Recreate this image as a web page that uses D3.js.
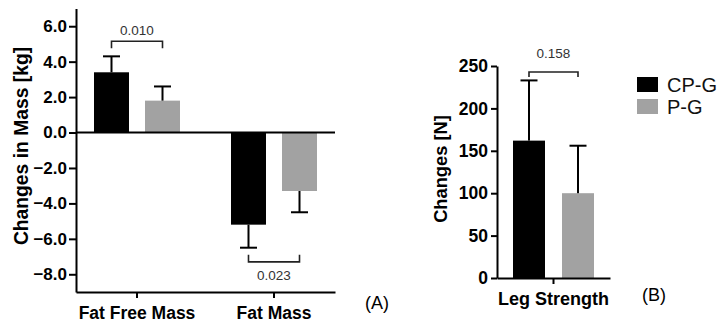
<!DOCTYPE html>
<html lang="en">
<head>
<meta charset="utf-8">
<script src="https://d3js.org/d3.v7.min.js"></script>
<style>
    body { margin: 0; background: #fff; }
    svg { display: block; font-family: "Liberation Sans", Arial, sans-serif; }
    .axis path, .axis line { stroke: #000; stroke-width: 2; }
    .axis text { font-weight: bold; fill: #000; }
</style>
</head>
<body>
<div id="chart"></div>
<script>
// ---------------- data ----------------
var groups = ["CP-G", "P-G"];
var colors = ["#000000", "#a2a2a2"];

// panel A
var massCats = ["Fat Free Mass", "Fat Mass"];
var massCPG = [3.4, -5.2];
var massPG = [1.8, -3.3];
var massCPGErr = [0.9, 1.3];
var massPGErr = [0.8, 1.2];
var massTicks = [-8, -6, -4, -2, 0, 2, 4, 6];
var massP = ["0.010", "0.023"];

// panel B
var legCats = ["Leg Strength"];
var legCPG = [162];
var legPG = [100];
var legCPGErr = [71];
var legPGErr = [56];
var legTicks = [0, 50, 100, 150, 200, 250];
var legP = ["0.158"];

// ---------------- drawing ----------------
var svg = d3.select("#chart").append("svg")
    .attr("width", 725)
    .attr("height", 327);

function buildRows(cats, a, b, ea, eb) {
    var rows = [];
    cats.forEach(function(c, i) {
        rows.push({cat: c, group: groups[0], value: a[i], err: ea[i]});
        rows.push({cat: c, group: groups[1], value: b[i], err: eb[i]});
    });
    return rows;
}

function drawBars(g, rows, x, sub, y) {
    var bw = x.bandwidth();
    g.selectAll("rect.bar")
        .data(rows)
        .enter().append("rect")
        .attr("class", "bar")
        .attr("x", function(d) { return x(d.cat) + bw / 2 + sub(d.group); })
        .attr("y", function(d) { return y(Math.max(0, d.value)); })
        .attr("width", sub.bandwidth())
        .attr("height", function(d) { return Math.abs(y(d.value) - y(0)); })
        .attr("fill", function(d) { return colors[groups.indexOf(d.group)]; });

    // one sided error bars
    var eb = g.selectAll("g.err").data(rows).enter().append("g").attr("class", "err");
    eb.append("line")
        .attr("x1", function(d) { return x(d.cat) + bw / 2 + sub(d.group) + sub.bandwidth() / 2; })
        .attr("x2", function(d) { return x(d.cat) + bw / 2 + sub(d.group) + sub.bandwidth() / 2; })
        .attr("y1", function(d) { return y(d.value); })
        .attr("y2", function(d) { return y(d.value + (d.value >= 0 ? d.err : -d.err)); })
        .attr("stroke", "#000").attr("stroke-width", 2);
    eb.append("line")
        .attr("x1", function(d) { return x(d.cat) + bw / 2 + sub(d.group) + sub.bandwidth() / 2 - 8.5; })
        .attr("x2", function(d) { return x(d.cat) + bw / 2 + sub(d.group) + sub.bandwidth() / 2 + 8.5; })
        .attr("y1", function(d) { return y(d.value + (d.value >= 0 ? d.err : -d.err)); })
        .attr("y2", function(d) { return y(d.value + (d.value >= 0 ? d.err : -d.err)); })
        .attr("stroke", "#000").attr("stroke-width", 2);
}

function bracket(g, x, sub, y, cat, yBar, yLeg, label, textY) {
    var c = x(cat) + x.bandwidth() / 2;
    var x1 = c + sub(groups[0]) + sub.bandwidth() / 2;
    var x2 = c + sub(groups[1]) + sub.bandwidth() / 2;
    g.append("path")
        .attr("d", "M" + x1 + "," + y(yLeg) + "V" + y(yBar) + "H" + x2 + "V" + y(yLeg))
        .attr("fill", "none").attr("stroke", "#222").attr("stroke-width", 1.6);
    g.append("text")
        .attr("x", (x1 + x2) / 2)
        .attr("y", textY)
        .attr("text-anchor", "middle")
        .attr("dominant-baseline", "central")
        .style("font-size", "13.5px")
        .attr("fill", "#333")
        .text(label);
}

// ---- panel A ----
var gA = svg.append("g");
var yA = d3.scaleLinear().domain([-9, 7]).range([292, 8.5]);
var xA = d3.scaleBand().domain(massCats).range([76, 335]).paddingInner(0.1095).paddingOuter(0);
var subA = d3.scaleBand().domain(groups).range([-43, 43]).paddingInner(0.314);

drawBars(gA, buildRows(massCats, massCPG, massPG, massCPGErr, massPGErr), xA, subA, yA);

gA.append("line")
    .attr("x1", 76).attr("x2", 335)
    .attr("y1", yA(0)).attr("y2", yA(0))
    .attr("stroke", "#000").attr("stroke-width", 2);

gA.append("g").attr("class", "axis")
    .attr("transform", "translate(76,0)")
    .call(d3.axisLeft(yA).tickValues(massTicks).tickFormat(d3.format(".1f"))
        .tickSize(7).tickPadding(2).tickSizeOuter(0))
    .selectAll("text").style("font-size", "17px");

gA.append("g").attr("class", "axis")
    .attr("transform", "translate(0," + yA(-9) + ")")
    .call(d3.axisBottom(xA).tickSize(6).tickPadding(4).tickSizeOuter(0))
    .selectAll("text").style("font-size", "17.5px").attr("dy", "0.95em");

gA.append("text")
    .attr("transform", "rotate(-90)")
    .attr("x", -146).attr("y", 28)
    .attr("text-anchor", "middle")
    .style("font-size", "19.3px").style("font-weight", "bold")
    .text("Changes in Mass [kg]");

bracket(gA, xA, subA, yA, massCats[0], 5.15, 4.75, massP[0], 30);
bracket(gA, xA, subA, yA, massCats[1], -7.3, -6.9, massP[1], 275);

gA.append("text")
    .attr("x", 365).attr("y", 303)
    .attr("dominant-baseline", "central")
    .style("font-size", "18px")
    .text("(A)");

// ---- panel B ----
var gB = svg.append("g");
var yB = d3.scaleLinear().domain([0, 250]).range([278, 66]);
var xB = d3.scaleBand().domain(legCats).range([497, 610]).padding(0);
var subB = d3.scaleBand().domain(groups).range([-40.5, 40.5]).paddingInner(0.347);

drawBars(gB, buildRows(legCats, legCPG, legPG, legCPGErr, legPGErr), xB, subB, yB);

gB.append("g").attr("class", "axis")
    .attr("transform", "translate(497,0)")
    .call(d3.axisLeft(yB).tickValues(legTicks).tickSize(6).tickPadding(3).tickSizeOuter(0))
    .selectAll("text").style("font-size", "17.5px");

gB.append("g").attr("class", "axis")
    .attr("transform", "translate(0," + yB(0) + ")")
    .call(d3.axisBottom(xB).tickSize(6).tickPadding(4).tickSizeOuter(0))
    .selectAll("text").style("font-size", "18px").attr("dy", "0.95em");

gB.append("text")
    .attr("transform", "rotate(-90)")
    .attr("x", -169).attr("y", 447)
    .attr("text-anchor", "middle")
    .style("font-size", "18.3px").style("font-weight", "bold")
    .text("Changes [N]");

bracket(gB, xB, subB, yB, legCats[0], 243, 237, legP[0], 53);

gB.append("text")
    .attr("x", 642).attr("y", 295)
    .attr("dominant-baseline", "central")
    .style("font-size", "18px")
    .text("(B)");

// legend
var leg = svg.append("g").selectAll("g")
    .data(groups).enter().append("g")
    .attr("transform", function(d, i) { return "translate(637," + (77 + i * 22) + ")"; });
leg.append("rect")
    .attr("width", 21).attr("height", 15)
    .attr("fill", function(d, i) { return colors[i]; });
leg.append("text")
    .attr("x", 30).attr("y", 8)
    .attr("dominant-baseline", "central")
    .style("font-size", "20px")
    .attr("fill", "#111")
    .text(function(d) { return d; });
</script>
</body>
</html>
